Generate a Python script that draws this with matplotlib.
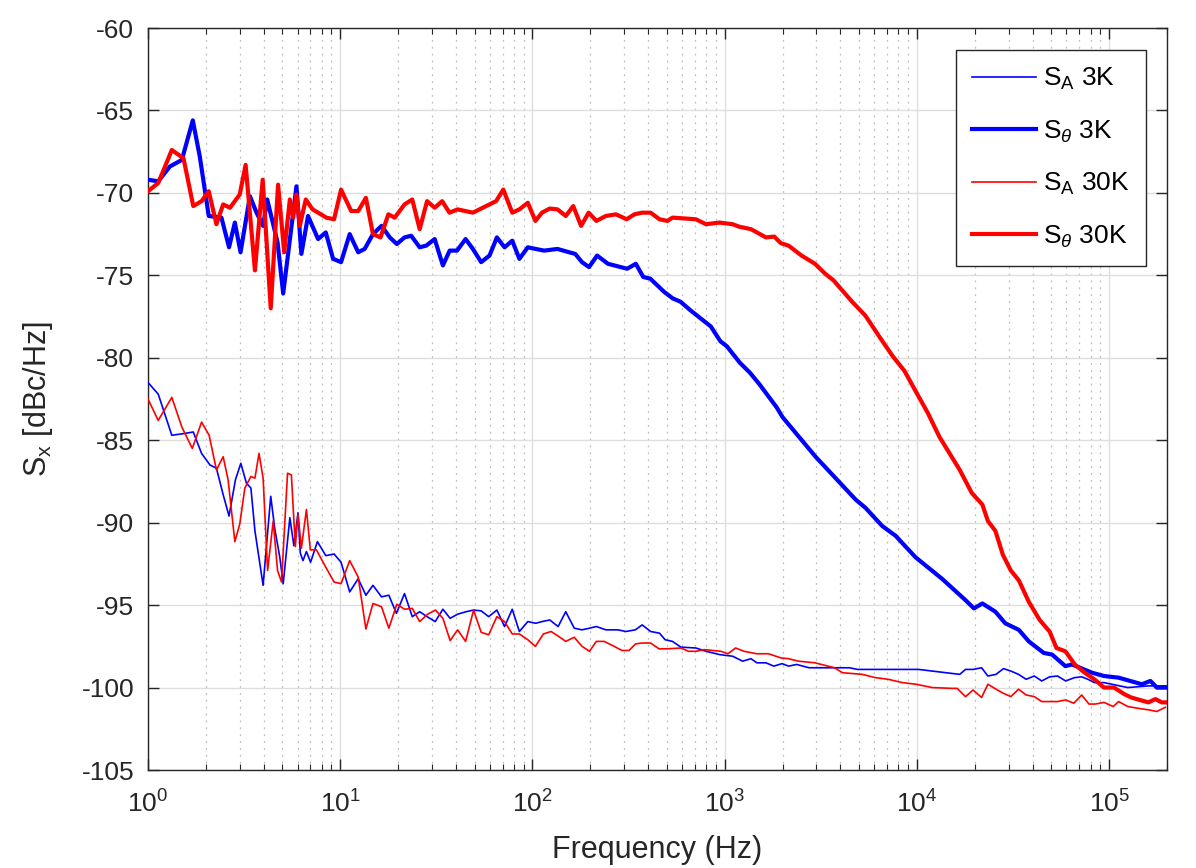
import matplotlib
matplotlib.use("Agg")
import matplotlib.pyplot as plt
from matplotlib.ticker import LogLocator, FixedLocator, NullFormatter

plt.rcParams['font.family'] = ['Liberation Sans', 'DejaVu Sans']
plt.rcParams['mathtext.fontset'] = 'custom'
plt.rcParams['mathtext.rm'] = 'Liberation Sans'
plt.rcParams['mathtext.it'] = 'Liberation Sans:italic'
plt.rcParams['axes.unicode_minus'] = False

# ---------------- data ----------------
f_theta3 = [1.0, 1.13, 1.30, 1.50, 1.71, 1.86, 2.07, 2.41, 2.64, 2.83,
            3.03, 3.39, 3.67, 3.97, 4.17, 4.72, 5.05, 5.92, 6.28, 6.80,
            7.67, 8.41, 9.18, 10.1, 11.2, 12.4, 13.4, 14.8, 16.4, 18.1,
            19.7, 21.6, 23.4, 25.9, 28.0, 31.0, 34.2, 37.1, 40.5, 44.9,
            49.0, 54.1, 59.8, 65.3, 71.6, 78.5, 85.5, 94.6, 104, 115,
            135, 155, 167, 181, 197, 217, 247, 311, 345, 377,
            410, 484, 537, 589, 660, 847, 950, 1026, 1199, 1352,
            1515, 1862, 2000, 2970, 4800, 5400, 6600, 7750, 9840,
            13500, 17900, 19800, 21900, 25600, 28800, 33900, 38200, 45700, 50500,
            59200, 64100, 81500, 94000, 112000, 148000, 164000, 177000, 199000]
s_theta3 = [-69.2, -69.3, -68.4, -68.0, -65.6, -67.8, -71.4, -71.5, -73.3, -71.8,
            -73.6, -70.2, -71.2, -72.0, -70.4, -73.0, -76.1, -69.6, -73.7, -71.4,
            -72.8, -72.4, -74.0, -74.2, -72.5, -73.6, -73.4, -72.5, -72.0, -72.7,
            -73.1, -72.7, -72.6, -73.3, -73.2, -72.8, -74.4, -73.5, -73.5, -72.8,
            -73.4, -74.2, -73.8, -72.7, -73.3, -72.9, -74.0, -73.3, -73.4, -73.5,
            -73.4, -73.6, -73.7, -74.2, -74.5, -73.8, -74.3, -74.6, -74.3, -75.1,
            -75.2, -76.0, -76.4, -76.6, -77.1, -78.1, -79.0, -79.3, -80.3, -80.9,
            -81.6, -83.0, -83.6, -86.0, -88.6, -89.1, -90.2, -90.8, -92.1,
            -93.4, -94.7, -95.2, -94.9, -95.4, -96.1, -96.5, -97.2, -97.9, -98.0,
            -98.7, -98.6, -99.1, -99.3, -99.4, -99.8, -99.6, -100.0, -100.0]

f_theta30 = [1.0, 1.13, 1.33, 1.53, 1.72, 1.90, 2.07, 2.27, 2.46, 2.67,
             3.0, 3.22, 3.60, 3.95, 4.35, 4.75, 5.11, 5.47, 5.69, 5.92,
             6.16, 6.62, 7.18, 7.68, 8.46, 9.29, 10.1, 11.4, 12.4, 13.6,
             14.8, 16.2, 17.8, 19.2, 21.6, 23.7, 25.9, 28.3, 31.0, 33.9,
             37.0, 40.8, 49.0, 57.4, 64.7, 70.5, 78.5, 85.5, 94.6, 103.6,
             112, 123, 135, 149, 163, 179, 196, 215, 241, 272,
             309, 339, 372, 412, 458, 504, 535, 708, 800, 940,
             1100, 1190, 1370, 1640, 1810, 1960, 2150, 2510, 2950, 3330,
             3680, 4600, 5400, 6360, 7480, 8620, 9930, 11400, 13100, 16700,
             19300, 21900, 23400, 25600, 28000, 30800, 33900, 38200, 43500, 49000,
             53200, 59200, 66300, 74600, 83800, 94000, 106000, 120000, 130000, 160000,
             174000, 188000, 199000]
s_theta30 = [-69.9, -69.4, -67.4, -67.9, -70.8, -70.5, -69.9, -71.9, -70.7, -70.9,
             -70.1, -68.3, -74.7, -69.2, -77.0, -69.5, -73.6, -70.4, -71.5, -70.1,
             -72.0, -70.4, -71.0, -71.2, -71.5, -71.6, -69.8, -71.1, -71.1, -70.3,
             -72.5, -72.7, -71.3, -71.5, -70.7, -70.4, -72.2, -70.5, -70.9, -70.5,
             -71.2, -71.0, -71.2, -70.8, -70.5, -69.8, -71.2, -71.0, -70.6, -71.7,
             -71.2, -70.95, -71.0, -71.4, -70.8, -72.0, -71.2, -71.7, -71.4, -71.3,
             -71.6, -71.3, -71.2, -71.2, -71.6, -71.7, -71.5, -71.6, -71.9, -71.8,
             -71.9, -72.05, -72.2, -72.7, -72.65, -73.05, -73.2, -73.8, -74.3, -74.9,
             -75.3, -76.6, -77.45, -78.7, -79.9, -80.8, -82.1, -83.35, -84.8, -86.8,
             -88.2, -88.9, -89.9, -90.5, -91.95, -92.9, -93.5, -94.8, -95.9, -96.6,
             -97.6, -97.8, -98.6, -99.1, -99.5, -100.0, -100.0, -100.4, -100.6, -100.9,
             -100.7, -100.9, -100.9]

f_a3 = [1.0, 1.13, 1.33, 1.53, 1.72, 1.90, 2.10, 2.27, 2.46, 2.64,
        2.85, 3.04, 3.25, 3.43, 3.60, 3.97, 4.35, 4.57, 4.85, 5.05,
        5.47, 5.74, 6.03, 6.20, 6.40, 6.67, 7.01, 7.61, 8.41, 9.29,
        10.1, 11.2, 12.4, 13.6, 14.8, 16.4, 17.9, 19.6, 21.6, 23.7,
        25.9, 28.3, 31.2, 34.2, 37.3, 40.8, 45.2, 49.4, 54.1, 59.2,
        65.3, 71.6, 78.5, 85.5, 94.6, 104, 112, 123, 136, 149,
        165, 181, 198, 215, 241, 278, 306, 343, 372, 412,
        458, 490, 535, 592, 708, 800, 940, 1100, 1240, 1370,
        1470, 1640, 1800, 1990, 2150, 2370, 2750, 3480, 4460, 4910,
        6800, 10200, 16700, 17900, 19600, 21700, 23400, 25800, 28200, 30800,
        33800, 37000, 40800, 44600, 49000, 53900, 59400, 66000, 72000, 77600,
        83800, 94000, 125000, 160000, 199000]
s_a3 = [-81.5, -82.2, -84.7, -84.6, -84.5, -85.8, -86.5, -86.7, -88.3, -89.6,
        -87.4, -86.4, -87.6, -87.9, -90.5, -93.8, -88.4, -90.4, -92.1, -93.7,
        -89.7, -91.4, -89.4, -91.85, -92.3, -91.75, -92.4, -91.15, -92.0, -91.9,
        -92.4, -94.2, -93.4, -94.4, -93.8, -94.5, -94.4, -95.5, -94.3, -95.7,
        -95.4, -95.7, -96.0, -95.25, -95.8, -95.55, -95.4, -95.3, -95.35, -95.7,
        -95.3, -96.3, -95.25, -96.6, -96.0, -96.1, -96.0, -95.9, -96.3, -95.4,
        -96.4, -96.5, -96.4, -96.3, -96.5, -96.5, -96.6, -96.5, -96.2, -96.6,
        -96.7, -97.1, -97.2, -97.55, -97.6, -97.8, -98.0, -98.1, -98.4, -98.25,
        -98.5, -98.5, -98.7, -98.55, -98.7, -98.6, -98.8, -98.8, -98.8, -98.9,
        -98.9, -98.9, -99.2, -98.9, -98.9, -98.8, -99.3, -99.2, -98.85, -99.0,
        -99.2, -99.5, -99.3, -99.6, -99.35, -99.3, -99.6, -99.4, -99.35, -99.5,
        -99.7, -99.7, -100.0, -99.9, -99.9]

f_a30 = [1.0, 1.13, 1.33, 1.50, 1.70, 1.90, 2.08, 2.27, 2.46, 2.61,
         2.83, 3.0, 3.19, 3.43, 3.60, 3.78, 3.97, 4.19, 4.48, 4.72,
         4.95, 5.32, 5.57, 5.84, 6.03, 6.28, 6.67, 6.99, 7.52, 8.41,
         9.29, 10.1, 11.2, 12.4, 13.6, 14.8, 16.4, 17.9, 19.7, 21.6,
         23.7, 25.9, 28.5, 31.3, 34.2, 37.3, 40.8, 44.9, 49.4, 54.1,
         59.2, 65.3, 71.6, 78.5, 85.5, 94.6, 103.6, 114, 125, 137,
         149, 165, 181, 198, 215, 236, 266, 292, 318, 344,
         372, 412, 455, 504, 592, 648, 708, 782, 866, 955,
         1040, 1140, 1260, 1470, 1690, 1960, 2150, 2420, 2950, 3730,
         4100, 5200, 6090, 7100, 8400, 9900, 12000, 15300, 16200, 17900,
         19600, 21700, 23400, 25800, 28200, 30800, 33800, 37000, 40800, 44600,
         49000, 53900, 59400, 65500, 72000, 78500, 84800, 94000, 105000, 112000,
         125000, 140000, 160000, 177000, 196000]
s_a30 = [-82.5, -83.8, -82.4, -84.2, -85.5, -83.9, -84.7, -86.8, -86.0, -87.4,
         -91.15, -90.1, -87.9, -87.2, -87.3, -85.8, -87.3, -92.9, -89.9, -92.9,
         -93.6, -87.0, -87.1, -91.45, -89.5, -91.55, -89.2, -91.65, -91.65, -92.7,
         -93.6, -93.7, -92.3, -93.3, -96.45, -94.9, -95.1, -96.4, -94.95, -95.25,
         -95.2, -96.0, -95.55, -95.3, -95.8, -97.15, -96.5, -97.2, -95.3, -96.65,
         -96.8, -95.7, -96.0, -96.75, -96.75, -97.1, -97.5, -96.75, -96.6, -96.9,
         -97.2, -96.95, -97.5, -97.8, -97.2, -97.2, -97.5, -97.75, -97.75, -97.35,
         -97.3, -97.3, -97.65, -97.65, -97.6, -97.8, -97.8, -97.7, -97.75, -97.8,
         -97.95, -97.6, -97.8, -97.95, -97.95, -98.2, -98.25, -98.4, -98.5, -98.8,
         -99.1, -99.2, -99.4, -99.5, -99.7, -99.8, -100.0, -100.05, -100.05, -100.55,
         -100.15, -100.6, -99.8, -100.1, -100.35, -100.55, -100.1, -100.45, -100.55, -100.85,
         -100.85, -100.85, -100.75, -100.95, -100.45, -101.0, -101.0, -100.9, -101.15, -100.85,
         -101.15, -101.25, -101.35, -101.45, -101.2]

labels = [r'S$_{\mathrm{A}}$ 3K', r'S$_{\theta}$ 3K', r'S$_{\mathrm{A}}$ 30K', r'S$_{\theta}$ 30K']
y_ticks = [-105, -100, -95, -90, -85, -80, -75, -70, -65, -60]

# ---------------- plot ----------------
TXT = (0.15, 0.15, 0.15)
fig = plt.figure(figsize=(11.96, 8.68), dpi=100)
ax = fig.add_axes([148/1196, 1 - 770/868, (1167-148)/1196, (770-28)/868])

ax.plot(f_a3, s_a3, color=(0, 0, 1), lw=1.2, label=labels[0], zorder=3)
ax.plot(f_theta3, s_theta3, color=(0, 0, 1), lw=3.0, label=labels[1], zorder=3)
ax.plot(f_a30, s_a30, color=(1, 0, 0), lw=1.2, label=labels[2], zorder=3)
ax.plot(f_theta30, s_theta30, color=(1, 0, 0), lw=3.0, label=labels[3], zorder=3)

ax.set_xscale('log')
ax.set_xlim(1, 2e5)
ax.set_ylim(-105, -60)
ax.yaxis.set_major_locator(FixedLocator(y_ticks))
ax.xaxis.set_major_locator(LogLocator(base=10, numticks=10))
ax.xaxis.set_minor_locator(LogLocator(base=10, subs=range(2, 10), numticks=20))
ax.xaxis.set_minor_formatter(NullFormatter())

ax.grid(True, which='major', color=(0.87, 0.87, 0.87), lw=1.0, ls='-', zorder=0)
ax.grid(True, which='minor', axis='x', color=(0.75, 0.75, 0.75), lw=0.9,
        ls=(0, (1.5, 4)), zorder=0)
ax.set_axisbelow(True)

for sp in ax.spines.values():
    sp.set_color(TXT)
    sp.set_linewidth(1.0)

ax.tick_params(which='both', direction='in', top=True, right=True,
               colors=TXT, labelsize=19)
ax.tick_params(which='major', length=8, width=1.0)
ax.tick_params(which='minor', length=4, width=0.8)
ax.tick_params(axis='x', pad=15)
ax.tick_params(axis='y', pad=10)

ax.set_xlabel('Frequency (Hz)', fontsize=22, color=TXT, labelpad=12)
ax.set_ylabel(r'S$_{\mathrm{x}}$ [dBc/Hz]', fontsize=22, color=TXT, labelpad=19)

leg = ax.legend(loc='upper right', fontsize=19, frameon=True, fancybox=False,
                edgecolor=TXT, framealpha=1, borderpad=0.6,
                handlelength=2.4, handletextpad=0.3, labelspacing=1.0,
                borderaxespad=0, bbox_to_anchor=(0.9794, 0.9704))
leg.get_frame().set_linewidth(1.0)

fig.savefig('out.png', dpi=100)
